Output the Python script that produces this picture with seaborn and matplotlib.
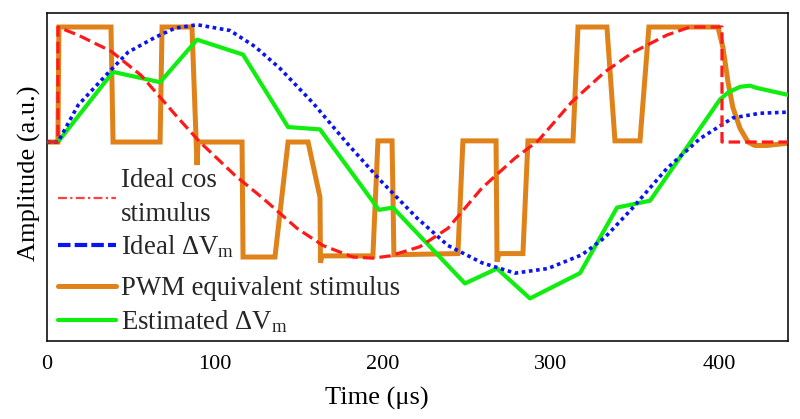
import numpy as np
import pandas as pd
import seaborn as sns
import matplotlib
matplotlib.use("Agg")
import matplotlib.pyplot as plt
from matplotlib.lines import Line2D

# ---------------- data (time in µs, amplitude in a.u.) ----------------
pwm_t = [0, 6.5, 7.1, 38.1, 39.3, 67.3, 68.5, 86.3, 89.3, 89.9, 116.1, 116.7,
         135.7, 143.5, 155.4, 162.5, 162.8, 163.7, 194.0, 197.0, 205.4, 206.5,
         244.6, 247.6, 267.3, 267.9, 269.0, 283.3, 286.3, 313.1, 316.1, 333.3,
         338.1, 353.0, 358.3, 399.4, 402.4, 405.4, 408.3, 412.5, 417.3, 421.4,
         428.6, 441.1]
pwm_a = [0, 0, 1.0, 1.0, 0, 0, 1.0, 1.0, -0.2, 0, 0, -1.0,
         -1.0, 0, 0, -0.48, -1.05, -0.99, -0.99, 0.01, 0.01, -0.98,
         -0.97, 0.01, 0.01, -1.04, -0.97, -0.97, 0.01, 0.01, 1.0, 1.0,
         0.01, 0.01, 1.0, 1.0, 0.82, 0.52, 0.30, 0.12, 0.0, -0.03,
         -0.03, -0.01]

cos_t = [0, 6.5, 6.5, 18.5, 38.1, 56.0, 78.0, 91.0, 111.9, 128.6, 148.8, 164.3,
         182.1, 194.0, 204.2, 222.0, 238.7, 258.9, 278.6, 292.3, 312.5, 332.1,
         348.8, 369.0, 382.7, 399.4, 401.8, 401.8, 441.1]
cos_a = [0, 0, 1.0, 0.93, 0.79, 0.58, 0.21, 0.0, -0.29, -0.49, -0.75, -0.90,
         -1.0, -1.01, -0.99, -0.91, -0.75, -0.40, -0.14, 0.01, 0.35, 0.61,
         0.78, 0.93, 1.0, 1.0, 1.0, 0.0, 0.0]

vm_t = [0, 6.5, 18.5, 36.3, 48.2, 64.3, 76.2, 89.3, 108.9, 123.8, 138.7, 158.3,
        178.6, 198.2, 220.2, 238.7, 258.9, 278.6, 298.2, 318.5, 332.1, 348.8,
        369.0, 388.7, 408.3, 424.4, 441.1]
vm_a = [0, 0, 0.32, 0.60, 0.78, 0.91, 0.99, 1.02, 0.97, 0.83, 0.64, 0.34,
        -0.01, -0.33, -0.66, -0.90, -1.05, -1.14, -1.10, -0.98, -0.83, -0.57,
        -0.23, 0.03, 0.21, 0.25, 0.26]

est_t = [0, 6.5, 39.3, 67.3, 89.3, 116.7, 143.5, 162.5, 197.6, 205.9, 248.8,
         267.9, 287.5, 317.3, 339.3, 359.0, 400.6, 405.4, 412.5, 418.5, 422.6, 441.1]
est_a = [0, 0, 0.61, 0.52, 0.89, 0.76, 0.13, 0.11, -0.59, -0.57, -1.23,
         -1.10, -1.36, -1.14, -0.57, -0.51, 0.37, 0.43, 0.48, 0.49, 0.47, 0.41]

x_ticks = [0, 100, 200, 300, 400]
labels = ["Ideal cos\nstimulus", "Ideal \u0394V$_\\mathrm{m}$",
          "PWM equivalent stimulus", "Estimated \u0394V$_\\mathrm{m}$"]

# ---------------- style ----------------
sns.set_theme(style="white")
plt.rcParams["font.family"] = ["Liberation Serif", "DejaVu Serif"]
plt.rcParams["mathtext.fontset"] = "custom"
plt.rcParams["mathtext.rm"] = "Liberation Serif"
plt.rcParams["mathtext.it"] = "Liberation Serif:italic"

c_orange = "#E0821A"
c_red = "#FF1A1A"
c_blue = "#0A14F0"
c_green = "#10EE10"

fig = plt.figure(figsize=(8, 4.19), dpi=100)
ax = fig.add_axes([0.05875, 0.1862, 0.92625, 0.7828])

def df(t, a):
    return pd.DataFrame({"t": t, "a": a})

sns.lineplot(data=df(pwm_t, pwm_a), x="t", y="a", ax=ax, sort=False, estimator=None,
             color=c_orange, lw=3.6, zorder=2, solid_joinstyle="miter")
sns.lineplot(data=df(est_t, est_a), x="t", y="a", ax=ax, sort=False, estimator=None,
             color=c_green, lw=3.0, zorder=3)
l_vm = sns.lineplot(data=df(vm_t, vm_a), x="t", y="a", ax=ax, sort=False, estimator=None,
                    color=c_blue, lw=2.6, zorder=4).lines[-1]
l_vm.set_dashes((1.0, 1.0))
l_cos = sns.lineplot(data=df(cos_t, cos_a), x="t", y="a", ax=ax, sort=False, estimator=None,
                     color=c_red, lw=2.3, zorder=5).lines[-1]
l_cos.set_dashes((3.6, 1.6))

ax.set_xlim(0, 441.1)
ax.set_ylim(-1.73, 1.122)
ax.set_xticks(x_ticks)
ax.set_yticks([])
ax.tick_params(axis="x", length=0, pad=10, labelsize=16, colors="black")
for s in ax.spines.values():
    s.set_color("#111111")
    s.set_linewidth(1.2)
    s.set_visible(True)

ax.set_xlabel("Time (\u03bcs)", fontsize=19, color="black")
ax.set_ylabel("Amplitude (a.u.)", fontsize=19, color="black")
ax.xaxis.set_label_coords(0.445, -0.14)
ax.yaxis.set_label_coords(-0.008, 0.51)

handles = [
    Line2D([], [], color="#FF4040", lw=1.6, linestyle=(0, (4, 1.5, 1, 1.5))),
    Line2D([], [], color=c_blue, lw=3.0, linestyle=(0, (3, 1))),
    Line2D([], [], color=c_orange, lw=3.6),
    Line2D([], [], color=c_green, lw=3.0),
]
leg_kw = dict(loc="lower left", frameon=False, fontsize=19.3, handlelength=2.16,
              handletextpad=0.2, borderaxespad=0, borderpad=0, labelspacing=0.25)
leg1 = ax.legend(handles[:2], labels[:2], bbox_to_anchor=(0.0148, 0.246), **leg_kw)
leg1.get_texts()[0].set_linespacing(1.45)
ax.add_artist(leg1)
leg2 = ax.legend(handles[2:], labels[2:], bbox_to_anchor=(0.0148, 0.018), **leg_kw)

fig.savefig("out.png", dpi=100)
